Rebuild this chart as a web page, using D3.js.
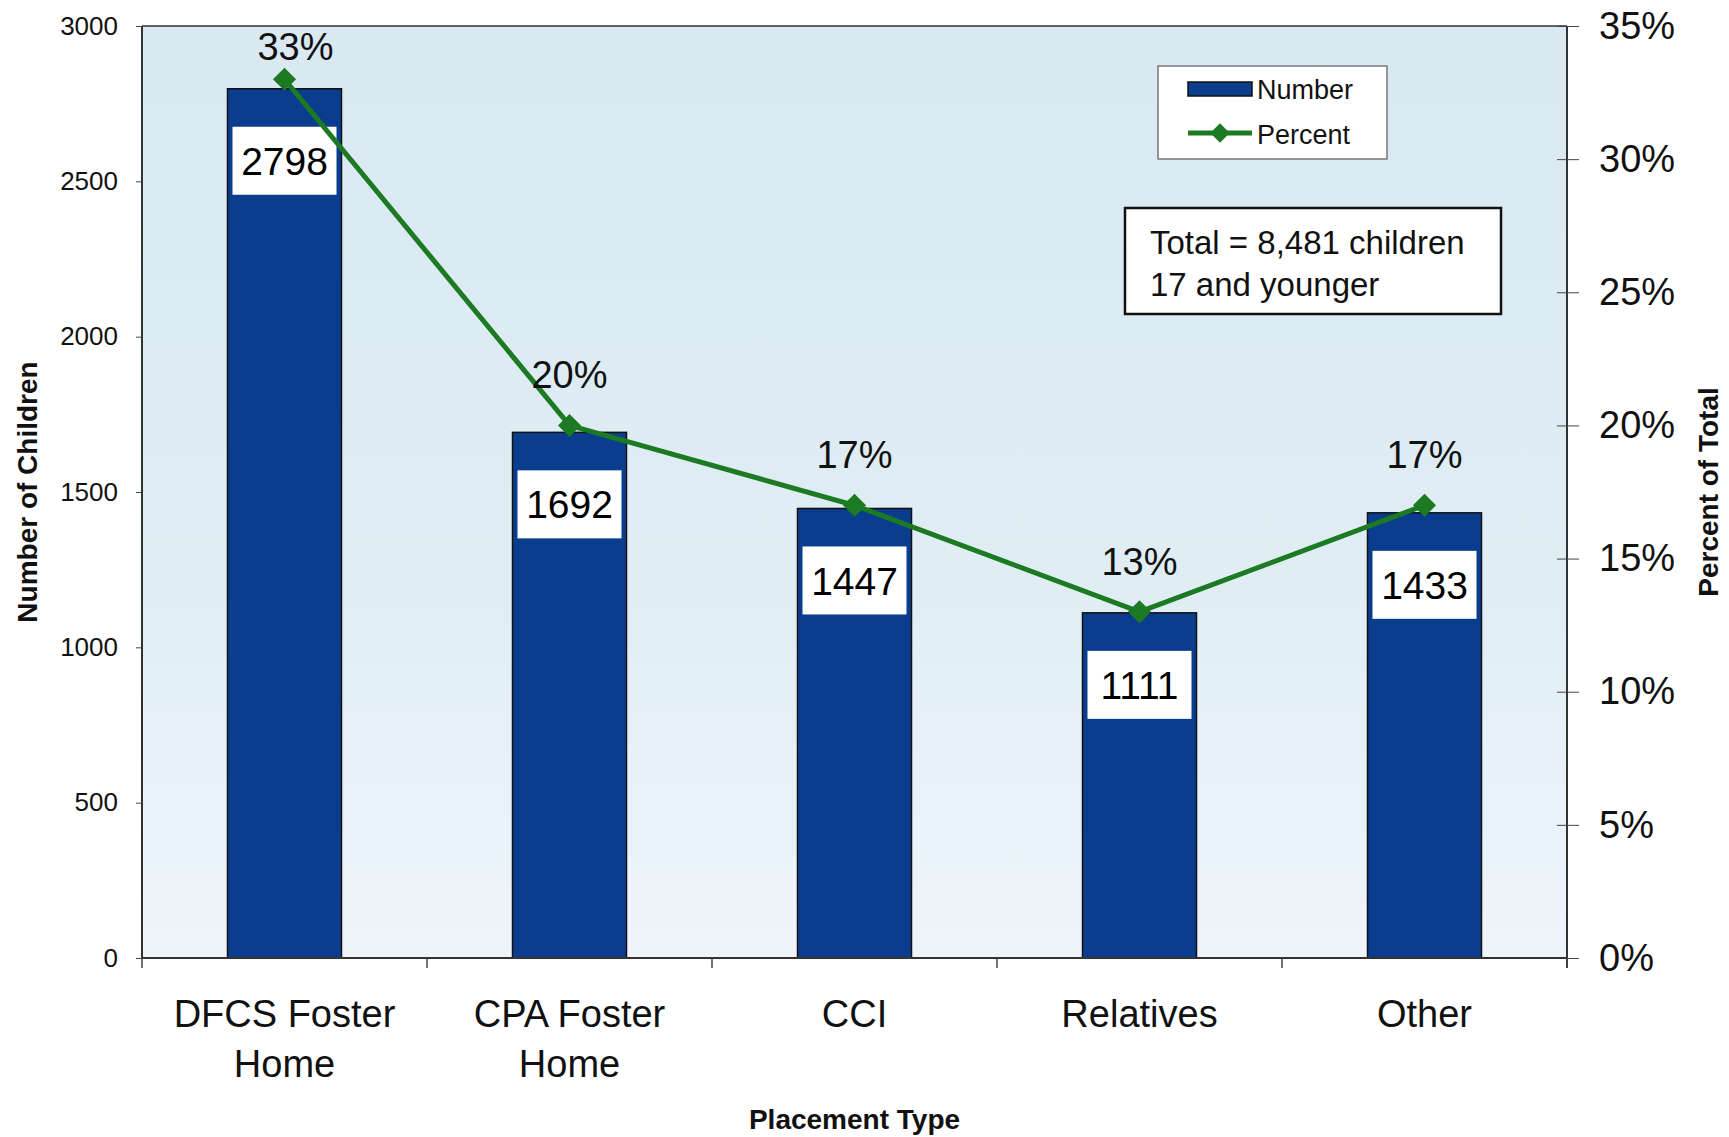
<!DOCTYPE html>
<html>
<head>
<meta charset="utf-8">
<script src="https://cdn.jsdelivr.net/npm/d3@7"></script>
<style>
  body { margin: 0; background: #fff; }
  text { font-family: "Liberation Sans", Arial, sans-serif; }
</style>
</head>
<body>
<div class="chart"></div>
<script>
var categories = [["DFCS Foster", "Home"], ["CPA Foster", "Home"], ["CCI"], ["Relatives"], ["Other"]];
var numbers = [2798, 1692, 1447, 1111, 1433];
var percents = [33, 20, 17, 13, 17];
var leftTicks = [0, 500, 1000, 1500, 2000, 2500, 3000];
var rightTicks = [0, 5, 10, 15, 20, 25, 30, 35];
var noteLines = ["Total = 8,481 children", "17 and younger"];

var width = 1729,
    height = 1137,
    margin = {top: 26, right: 162, bottom: 179, left: 142};

var plotW = width - margin.left - margin.right,
    plotH = height - margin.top - margin.bottom;

var barColor = "#0b3d8f",
    lineColor = "#1b7a22";

var svg = d3.select(".chart").append("svg")
    .attr("width", width)
    .attr("height", height);

var defs = svg.append("defs");
var grad = defs.append("linearGradient")
    .attr("id", "bg")
    .attr("x1", 0).attr("y1", 0).attr("x2", 0).attr("y2", 1);
grad.append("stop").attr("offset", "0%").attr("stop-color", "#d9e8f1");
grad.append("stop").attr("offset", "60%").attr("stop-color", "#e0edf5");
grad.append("stop").attr("offset", "100%").attr("stop-color", "#eef5fa");

var g = svg.append("g")
    .attr("transform", "translate(" + margin.left + "," + margin.top + ")");

var x = d3.scaleBand()
    .domain(d3.range(categories.length))
    .range([0, plotW])
    .paddingInner(0.6)
    .paddingOuter(0.3);

var y = d3.scaleLinear().domain([0, 3000]).range([plotH, 0]);
var y2 = d3.scaleLinear().domain([0, 35]).range([plotH, 0]);

// plot background
g.append("rect")
    .attr("width", plotW)
    .attr("height", plotH)
    .attr("fill", "url(#bg)");

// bars
g.selectAll(".bar")
    .data(numbers)
    .enter().append("rect")
    .attr("class", "bar")
    .attr("x", function(d, i) { return x(i); })
    .attr("y", function(d) { return y(d); })
    .attr("width", x.bandwidth())
    .attr("height", function(d) { return plotH - y(d); })
    .attr("fill", barColor)
    .attr("stroke", "#111")
    .attr("stroke-width", 1.5);

// value boxes inside bars
var boxW = 104, boxH = 68;
var vlab = g.selectAll(".vlab")
    .data(numbers)
    .enter().append("g")
    .attr("class", "vlab")
    .attr("transform", function(d, i) {
        return "translate(" + (x(i) + x.bandwidth() / 2) + "," + (y(d) + 72) + ")";
    });
vlab.append("rect")
    .attr("x", -boxW / 2)
    .attr("y", -boxH / 2)
    .attr("width", boxW)
    .attr("height", boxH)
    .attr("fill", "#fff");
vlab.append("text")
    .attr("text-anchor", "middle")
    .attr("dy", "0.36em")
    .style("font-size", "39px")
    .style("fill", "#000")
    .text(function(d) { return d; });

// axes frame
g.append("line").attr("x1", 0).attr("x2", 0).attr("y1", 0).attr("y2", plotH)
    .attr("stroke", "#333").attr("stroke-width", 2);
g.append("line").attr("x1", plotW).attr("x2", plotW).attr("y1", 0).attr("y2", plotH + 10)
    .attr("stroke", "#333").attr("stroke-width", 2);
g.append("line").attr("x1", 0).attr("x2", plotW).attr("y1", 0).attr("y2", 0)
    .attr("stroke", "#333").attr("stroke-width", 1.5);

// left axis
var leftAxis = g.append("g")
    .call(d3.axisLeft(y).tickValues(leftTicks).tickSize(6).tickPadding(18)
        .tickFormat(d3.format("d")));
leftAxis.select(".domain").remove();
leftAxis.selectAll("line").attr("stroke", "#444");
leftAxis.selectAll("text")
    .style("font-size", "26px")
    .style("fill", "#111");

// right axis
var rightAxis = g.append("g")
    .attr("transform", "translate(" + plotW + ",0)")
    .call(d3.axisRight(y2).tickValues(rightTicks).tickSize(12)
        .tickPadding(20).tickFormat(function(d) { return d + "%"; }));
rightAxis.select(".domain").remove();
rightAxis.selectAll("line").attr("stroke", "#444").attr("x1", -10);
rightAxis.selectAll("text")
    .style("font-size", "38px")
    .style("fill", "#111");

// bottom axis, ticks between categories
var step = x.step();
var bounds = d3.range(categories.length + 1).map(function(i) { return x(0) - x.paddingInner() * step / 2 + i * step; });
g.append("line").attr("x1", 0).attr("x2", plotW).attr("y1", plotH).attr("y2", plotH)
    .attr("stroke", "#333").attr("stroke-width", 2);
g.selectAll(".xtick")
    .data(bounds)
    .enter().append("line")
    .attr("class", "xtick")
    .attr("x1", function(d) { return d; })
    .attr("x2", function(d) { return d; })
    .attr("y1", plotH)
    .attr("y2", plotH + 10)
    .attr("stroke", "#444")
    .attr("stroke-width", 1.5);

var xlab = g.selectAll(".xlab")
    .data(categories)
    .enter().append("text")
    .attr("class", "xlab")
    .attr("text-anchor", "middle")
    .attr("transform", function(d, i) {
        return "translate(" + (x(i) + x.bandwidth() / 2) + "," + (plotH + 69) + ")";
    })
    .style("font-size", "38px")
    .style("fill", "#111");
xlab.selectAll("tspan")
    .data(function(d) { return d; })
    .enter().append("tspan")
    .attr("x", 0)
    .attr("dy", function(d, i) { return i === 0 ? 0 : 50; })
    .text(function(d) { return d; });

// percent line
var line = d3.line()
    .x(function(d, i) { return x(i) + x.bandwidth() / 2; })
    .y(function(d) { return y2(d); });

g.append("path")
    .datum(percents)
    .attr("d", line)
    .attr("fill", "none")
    .attr("stroke", lineColor)
    .attr("stroke-width", 5);

g.selectAll(".marker")
    .data(percents)
    .enter().append("path")
    .attr("class", "marker")
    .attr("d", d3.symbol().type(d3.symbolDiamond2).size(340))
    .attr("transform", function(d, i) {
        return "translate(" + (x(i) + x.bandwidth() / 2) + "," + y2(d) + ")";
    })
    .attr("fill", lineColor);

g.selectAll(".plab")
    .data(percents)
    .enter().append("text")
    .attr("class", "plab")
    .attr("text-anchor", "middle")
    .attr("x", function(d, i) { return x(i) + x.bandwidth() / 2 + (i === 0 ? 11 : 0); })
    .attr("y", function(d) { return Math.max(y2(d) - 37, 34); })
    .style("font-size", "38px")
    .style("fill", "#111")
    .text(function(d) { return d + "%"; });

// legend
var legend = svg.append("g").attr("transform", "translate(1158,66)");
legend.append("rect")
    .attr("width", 229).attr("height", 93)
    .attr("fill", "#fff").attr("stroke", "#777").attr("stroke-width", 1.5);
legend.append("rect")
    .attr("x", 30).attr("y", 16).attr("width", 64).attr("height", 14)
    .attr("fill", barColor).attr("stroke", "#111").attr("stroke-width", 1.5);
legend.append("text")
    .attr("x", 99).attr("y", 33)
    .style("font-size", "27px").style("fill", "#111")
    .text("Number");
legend.append("line")
    .attr("x1", 30).attr("x2", 94).attr("y1", 67).attr("y2", 67)
    .attr("stroke", lineColor).attr("stroke-width", 5);
legend.append("path")
    .attr("d", d3.symbol().type(d3.symbolDiamond2).size(240))
    .attr("transform", "translate(62,67)")
    .attr("fill", lineColor);
legend.append("text")
    .attr("x", 99).attr("y", 78)
    .style("font-size", "27px").style("fill", "#111")
    .text("Percent");

// note box
var note = svg.append("g").attr("transform", "translate(1125,208)");
note.append("rect")
    .attr("width", 376).attr("height", 106)
    .attr("fill", "#fff").attr("stroke", "#111").attr("stroke-width", 2.5);
note.selectAll("text")
    .data(noteLines)
    .enter().append("text")
    .attr("x", 25)
    .attr("y", function(d, i) { return 46 + i * 42; })
    .style("font-size", "33px")
    .style("fill", "#111")
    .text(function(d) { return d; });

// axis titles
svg.append("text")
    .attr("transform", "translate(37," + (margin.top + plotH / 2) + ") rotate(-90)")
    .attr("text-anchor", "middle")
    .style("font-size", "28px")
    .style("font-weight", "bold")
    .style("fill", "#111")
    .text("Number of Children");

svg.append("text")
    .attr("transform", "translate(1718," + (margin.top + plotH / 2) + ") rotate(-90)")
    .attr("text-anchor", "middle")
    .style("font-size", "28px")
    .style("font-weight", "bold")
    .style("fill", "#111")
    .text("Percent of Total");

svg.append("text")
    .attr("x", margin.left + plotW / 2)
    .attr("y", 1129)
    .attr("text-anchor", "middle")
    .style("font-size", "28px")
    .style("font-weight", "bold")
    .style("fill", "#111")
    .text("Placement Type");
</script>
</body>
</html>
